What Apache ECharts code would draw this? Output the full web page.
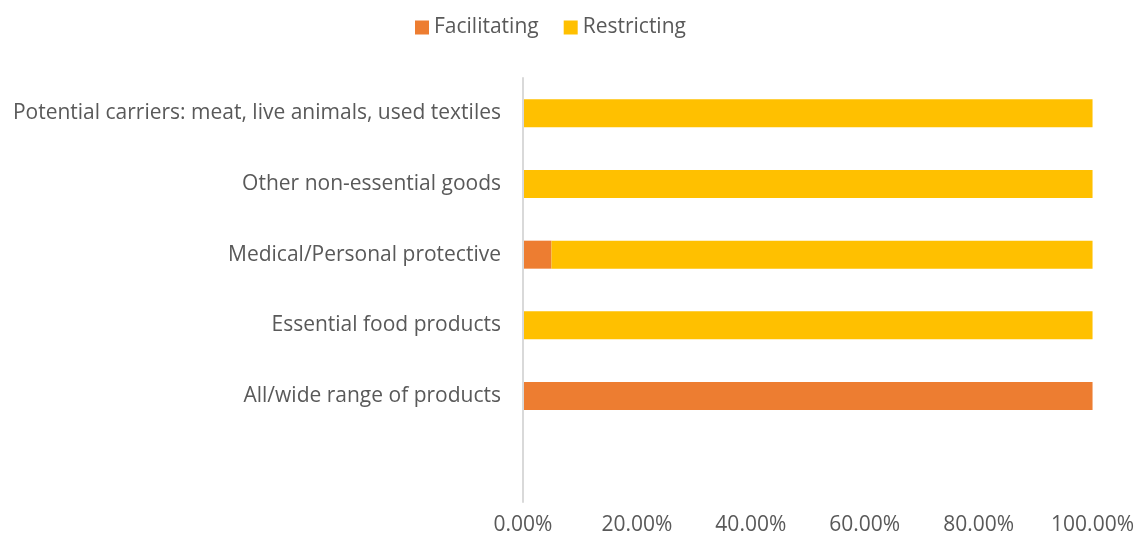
<!DOCTYPE html>
<html>
<head>
<meta charset="utf-8">
<script src="https://cdn.jsdelivr.net/npm/echarts@6/dist/echarts.min.js"></script>
<style>
  html, body { margin: 0; padding: 0; background: #fff; }
  #chart { width: 1137px; height: 542px; }
</style>
</head>
<body>
<div id="chart"></div>
<script>
// Product categories, bottom to top (first slot left blank)
const categories = [
  '',
  'All/wide range of products',
  'Essential food products',
  'Medical/Personal protective',
  'Other non-essential goods',
  'Potential carriers: meat, live animals, used textiles'
];
// Share of measures, in percent
const facilitating = [null, 100, 0, 5, 0, 0];
const restricting  = [null, 0, 100, 95, 100, 100];
const xTicks = [0, 20, 40, 60, 80, 100];

const textColor = '#595959';
const fontFamily = '"Open Sans", Lato, sans-serif';
const fontSize = 21;

const chart = echarts.init(document.getElementById('chart'));
chart.setOption({
  animation: false,
  textStyle: { fontFamily: fontFamily },
  legend: {
    top: 17,
    left: 415,
    padding: 0,
    itemWidth: 14,
    itemHeight: 14,
    itemGap: 25,
    icon: 'rect',
    textStyle: { color: textColor, fontSize: fontSize, fontFamily: fontFamily },
    data: ['Facilitating', 'Restricting']
  },
  grid: { left: 523, right: 44, top: 78, bottom: 40, containLabel: false },
  xAxis: {
    type: 'value',
    min: xTicks[0],
    max: xTicks[xTicks.length - 1],
    interval: 20,
    axisLine: { show: false },
    axisTick: { show: false },
    splitLine: { show: false },
    axisLabel: {
      color: textColor,
      fontSize: fontSize,
      margin: 13,
      formatter: v => v.toFixed(2) + '%'
    }
  },
  yAxis: {
    type: 'category',
    data: categories,
    z: 3,
    axisLine: { show: true, lineStyle: { color: '#d9d9d9', width: 2 } },
    axisTick: { show: false },
    axisLabel: { color: textColor, fontSize: fontSize, margin: 22, padding: [5, 0, 0, 0] }
  },
  series: [
    {
      name: 'Facilitating',
      type: 'bar',
      stack: 'total',
      barWidth: 28,
      itemStyle: { color: '#ed7d31' },
      data: facilitating
    },
    {
      name: 'Restricting',
      type: 'bar',
      stack: 'total',
      barWidth: 28,
      itemStyle: { color: '#ffc000' },
      data: restricting
    }
  ]
});
</script>
</body>
</html>
